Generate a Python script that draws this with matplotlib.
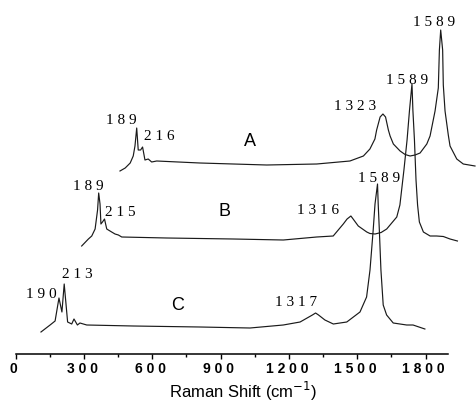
import matplotlib
matplotlib.use("Agg")
import matplotlib.pyplot as plt
from matplotlib.transforms import ScaledTranslation
import numpy as np

# ---------------- data (Raman shift in cm-1, relative intensity) ----------------
shift_A = [112, 136, 159, 173, 181, 189, 196, 207, 216, 227, 242, 258, 281, 480, 788, 1018,
           1171, 1233, 1263, 1286, 1294, 1310, 1323, 1335, 1348, 1356, 1371, 1402, 1425,
           1448, 1471, 1494, 1525, 1540, 1563, 1578, 1583, 1589, 1598, 1601, 1609, 1624,
           1632, 1663, 1693, 1747]
int_A = [-7, -4, 1, 8, 18, 36, 14, 14, 17, 4, 5, 2, 3, 1, -1, 0,
         3, 8, 15, 25, 34, 47, 50, 47, 34, 28, 20, 13, 9.5,
         8, 9, 11, 20, 28, 53, 76, 114, 134, 114, 79, 53, 29,
         18, 5, 0, -2]

shift_B = [113, 143, 158, 173, 184, 189, 195, 199, 206, 215, 225, 247, 262, 277, 292, 493,
           791, 1014, 1163, 1237, 1282, 1299, 1316, 1326, 1349, 1387, 1401, 1424, 1451,
           1476, 1521, 1535, 1553, 1567, 1578, 1589, 1593, 1600, 1607, 1614, 1622, 1640,
           1670, 1699, 1729, 1759, 1792]
int_B = [-7, 0, 3, 10, 29, 46, 35, 15, 17, 20, 10, 7, 5, 4, 2, 1,
         0, -1, 2, 3, 15, 20, 23, 20, 13, 7, 5.5, 5, 6.5,
         10, 22, 34, 69, 99, 129, 155, 129, 99, 59, 34, 17, 7,
         3, 3, 2.5, 0, -2]

shift_C = [111, 151, 173, 190, 203, 213, 228, 246, 256, 271, 282, 312, 516, 809, 1029, 1175,
           1249, 1303, 1317, 1330, 1358, 1395, 1454, 1512, 1541, 1556, 1570, 1578, 1589,
           1592, 1597, 1604, 1614, 1629, 1658, 1717, 1745, 1797]
int_C = [-5, 2, 6, 29, 15, 43, 5, 3, 8, 2, 4, 2, 1, 0, -1, 2,
         5, 12, 14, 12, 7, 3, 5, 15, 30, 57, 97, 123, 143,
         123, 97, 57, 22, 12, 4, 2, 2, -2]

trace_names = ["A", "B", "C"]

peak_labels_A = ["189", "216", "1323", "1589"]
peak_labels_B = ["189", "215", "1316", "1589"]
peak_labels_C = ["190", "213", "1317", "1589"]

x_ticks = [0, 300, 600, 900, 1200, 1500, 1800]
x_label = "Raman Shift (cm$^{-1}$)"

# ---------------- layout ----------------
W, H = 476, 405
PX_PER_UNIT = 0.2277
X0_PX = 15.7
AXIS_PX = 354

def dx(px):
    return (px - X0_PX) / PX_PER_UNIT

def dy(py):
    return AXIS_PX - py

# per-trace display transform: x_disp = a*x + b, y_disp = I + offset
trace_tf = {
    "A": (0.9536, 351.2, 190),
    "B": (0.9828, 178.7, 115),
    "C": (1.0, 0.0, 27),
}

fig = plt.figure(figsize=(W / 100, H / 100), dpi=100)
xmax = 2030
ax = fig.add_axes([X0_PX / W, (H - AXIS_PX) / H, xmax * PX_PER_UNIT / W, AXIS_PX / H])
ax.set_xlim(0, xmax)
ax.set_ylim(0, AXIS_PX)

series = {"A": (shift_A, int_A), "B": (shift_B, int_B), "C": (shift_C, int_C)}
for name in trace_names:
    a, b, off = trace_tf[name]
    xs = a * np.asarray(series[name][0], float) + b
    ys = np.asarray(series[name][1], float) + off
    ax.plot(xs, ys, color="#1a1a1a", lw=0.85, clip_on=False, solid_joinstyle="round")

def spaced(s):
    return " ".join(list(s))

serif = dict(family="Liberation Serif", fontsize=11, color="black", ha="center", va="center")
label_pos = {
    "A": [(121, 121), (159, 137), (355, 106), (434, 22)],
    "B": [(88, 186), (120, 212), (318, 210), (407, 81)],
    "C": [(41, 294), (77, 275), (296, 302), (379, 179)],
}
labels = {"A": peak_labels_A, "B": peak_labels_B, "C": peak_labels_C}
for name in trace_names:
    for txt, (px, py) in zip(labels[name], label_pos[name]):
        ax.text(dx(px), dy(py), spaced(txt), **serif)

letter_pos = {"A": (250, 141), "B": (225, 211), "C": (178, 305)}
for name in trace_names:
    px, py = letter_pos[name]
    ax.text(dx(px), dy(py), name, family="Liberation Sans", fontsize=13,
            ha="center", va="center", color="black")

# axes styling
for s in ["top", "right", "left"]:
    ax.spines[s].set_visible(False)
ax.spines["bottom"].set_bounds(0, 1900)
ax.spines["bottom"].set_linewidth(1.1)
ax.set_yticks([])
ax.set_xticks(x_ticks)
ax.set_xticks(np.arange(150, 1900, 300), minor=True)
ax.set_xticklabels([spaced(str(t)) for t in x_ticks], family="Liberation Sans",
                   fontweight="bold", fontsize=10)
ax.tick_params(axis="x", which="major", length=3.5, width=1.0, pad=2.5, direction="out")
ax.tick_params(axis="x", which="minor", length=1.8, width=1.0, direction="out")
for lab in ax.get_xticklabels():
    lab.set_transform(lab.get_transform() + ScaledTranslation(-2 / 100, 0, fig.dpi_scale_trans))

fig.text(243.5 / W, 1 - 391 / H, x_label, family="Liberation Sans", fontsize=12,
         ha="center", va="center")

fig.savefig("out.png", dpi=100)
